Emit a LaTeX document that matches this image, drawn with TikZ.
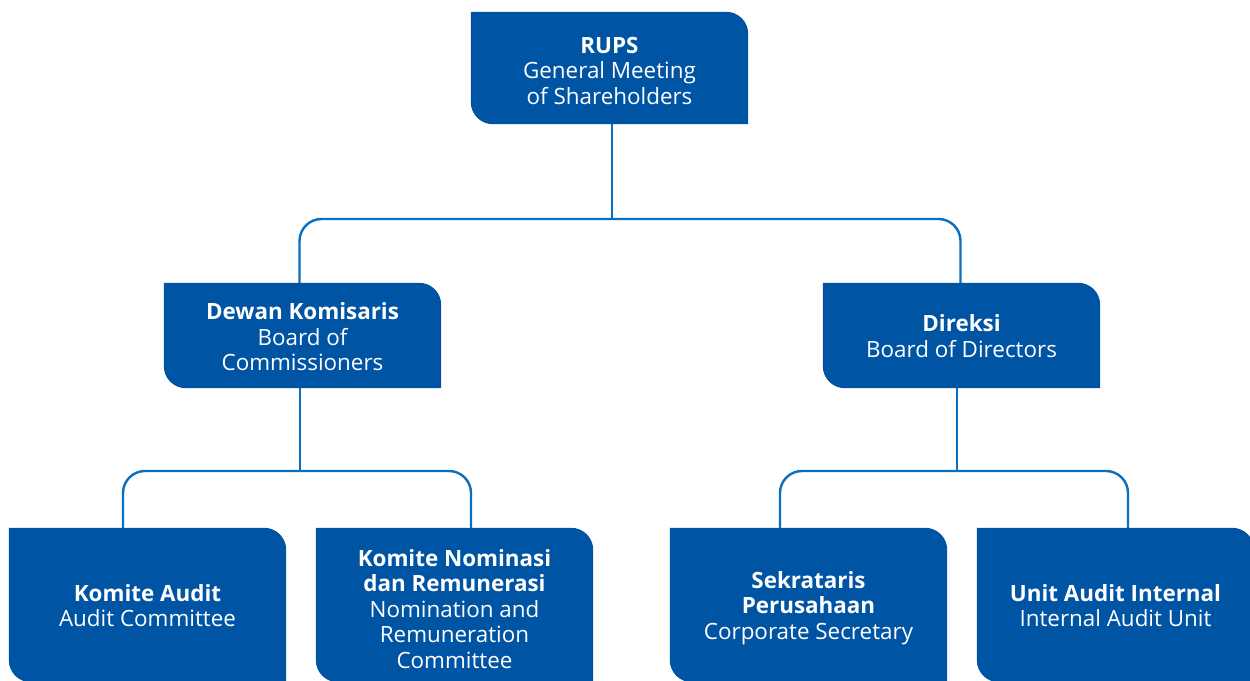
\documentclass[tikz,border=0pt]{standalone}
\usepackage{fontspec}
\setmainfont{Open Sans}
\definecolor{boxblue}{HTML}{0054A4}
\definecolor{lineblue}{HTML}{0A6FBE}
\tikzset{
  boxshape/.style={rectangle, inner sep=0pt, draw=none, fill=none},
  txt/.style={align=center, text=white, font=\fontsize{22.4}{25.6}\selectfont, inner sep=0pt},
  conn/.style={draw=lineblue, line width=2.4pt},
  elbow/.style={conn, rounded corners=22pt}
}
\newcommand{\orgbox}[5]{%
  \node[boxshape, minimum width={#4-#2}, minimum height={#5-#3}] (#1) at ({(#2+#4)/2},{680-(#3+#5)/2}) {};
  \fill[boxblue] (#1.north west) -- ([xshift=-22pt]#1.north east) arc[start angle=90,end angle=0,radius=22pt] -- (#1.south east) -- ([xshift=22pt]#1.south west) arc[start angle=270,end angle=180,radius=22pt] -- cycle;
}
\begin{document}
\begin{tikzpicture}[x=1pt,y=1pt]
\useasboundingbox (0,0) rectangle (1250,680);
\coordinate (j1) at (612,{680-219});
\coordinate (j2) at (300,{680-471});
\coordinate (j3) at (957,{680-471});
\orgbox{rups}{471}{12}{748}{124}
\orgbox{dewan}{164}{283}{441}{388}
\orgbox{direksi}{823}{283}{1100}{388}
\orgbox{audit}{9}{528}{286}{682}
\orgbox{nominasi}{316}{528}{593}{682}
\orgbox{sekretaris}{670}{528}{947}{682}
\orgbox{unit}{977}{528}{1254}{682}
% connectors
\draw[conn] ([xshift=2.5pt]rups.south) -- ([xshift=2.5pt]rups.south |- j1);
\draw[elbow] ([xshift=-3pt]dewan.north) |- (j1) -| ([xshift=-1pt]direksi.north);
\draw[conn] ([xshift=-2.5pt]dewan.south) -- ([xshift=-2.5pt]dewan.south |- j2);
\draw[elbow] ([xshift=-24.5pt]audit.north) |- (j2) -| ([xshift=16.5pt]nominasi.north);
\draw[conn] ([xshift=-4.5pt]direksi.south) -- ([xshift=-4.5pt]direksi.south |- j3);
\draw[elbow] ([xshift=-28.5pt]sekretaris.north) |- (j3) -| ([xshift=12.5pt]unit.north);
% texts
\node[txt] (rups-t) at ([yshift=-3pt]rups.center) {\textbf{RUPS}\\General Meeting\\of Shareholders};
\node[txt] (dewan-t) at ([yshift=-1.5pt]dewan.center) {\textbf{Dewan Komisaris}\\Board of\\Commissioners};
\node[txt] (direksi-t) at ([yshift=-0.5pt]direksi.center) {\textbf{Direksi}\\Board of Directors};
\node[txt] (audit-t) at ([yshift=-0.5pt]audit.center) {\textbf{Komite Audit}\\Audit Committee};
\node[txt] (nominasi-t) at ([yshift=-4pt]nominasi.center) {\textbf{Komite Nominasi}\\\textbf{dan Remunerasi}\\Nomination and\\Remuneration\\Committee};
\node[txt] (sekretaris-t) at ([yshift=-3pt]sekretaris.center) {\textbf{Sekrataris}\\\textbf{Perusahaan}\\Corporate Secretary};
\node[txt] (unit-t) at ([yshift=-0.5pt]unit.center) {\textbf{Unit Audit Internal}\\Internal Audit Unit};
\end{tikzpicture}
\end{document}
